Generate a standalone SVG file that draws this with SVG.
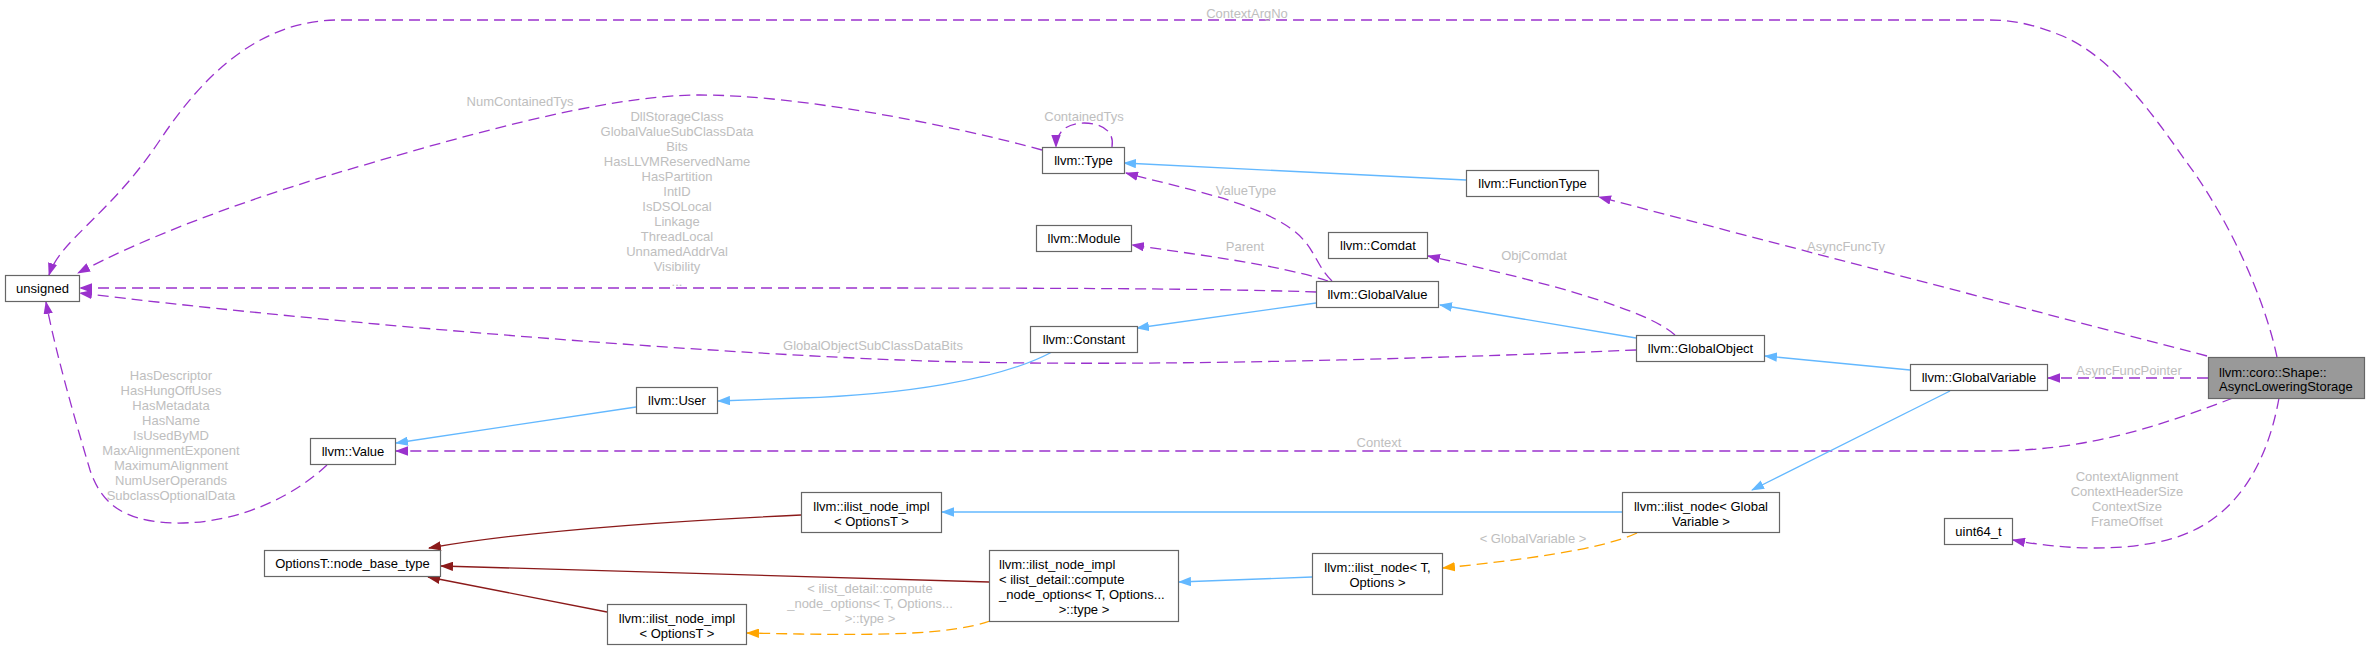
<svg xmlns="http://www.w3.org/2000/svg" width="2369" height="650" viewBox="0 0 2369 650">
<style>
text{font-family:"Liberation Sans",Arial,Helvetica,sans-serif;font-size:13px;fill:#000}
.lbl{fill:#bebebe;text-anchor:middle}
.c{text-anchor:middle}
.box rect{fill:#fff;stroke:#666;stroke-width:1.2}
.root rect{fill:#999;stroke:#666;stroke-width:1.2}
.e{fill:none;stroke-width:1.3}
.p{stroke:#9a32cd;stroke-dasharray:11,6;marker-end:url(#mp)}
.b{stroke:#63b8ff;marker-end:url(#mb)}
.r{stroke:#8b1a1a;marker-end:url(#mr)}
.o{stroke:#ffa500;stroke-dasharray:11,6;marker-end:url(#mo)}
</style>
<defs>
<marker id="mp" viewBox="0 0 13 9.4" refX="12" refY="4.7" markerWidth="13" markerHeight="9.4" markerUnits="userSpaceOnUse" orient="auto"><path d="M0,0L13,4.7L0,9.4z" fill="#9a32cd"/></marker>
<marker id="mb" viewBox="0 0 13 9.4" refX="12" refY="4.7" markerWidth="13" markerHeight="9.4" markerUnits="userSpaceOnUse" orient="auto"><path d="M0,0L13,4.7L0,9.4z" fill="#63b8ff"/></marker>
<marker id="mr" viewBox="0 0 13 9.4" refX="12" refY="4.7" markerWidth="13" markerHeight="9.4" markerUnits="userSpaceOnUse" orient="auto"><path d="M0,0L13,4.7L0,9.4z" fill="#8b1a1a"/></marker>
<marker id="mo" viewBox="0 0 13 9.4" refX="12" refY="4.7" markerWidth="13" markerHeight="9.4" markerUnits="userSpaceOnUse" orient="auto"><path d="M0,0L13,4.7L0,9.4z" fill="#ffa500"/></marker>
</defs>
<rect width="2369" height="650" fill="#fff"/>
<g id="edges">
<path class="e p" d="M2277,357 C2265,300 2230,220 2185,160 C2150,110 2110,55 2060,35 C2030,23 2010,20 1990,20 L335,20 C255,22 200,80 160,140 C110,215 60,240 49,275"/>
<text class="lbl" x="1247" y="18">ContextArgNo</text>
<path class="e p" d="M1042,150 C950,125 800,95 700,95 C600,95 450,140 330,175 C230,205 140,240 78,273"/>
<text class="lbl" x="520" y="106">NumContainedTys</text>
<path class="e p" d="M1112,147 C1115,130 1100,123 1084,123 C1066,123 1056,133 1056,147"/>
<text class="lbl" x="1084" y="121">ContainedTys</text>
<path class="e b" d="M1466,180 L1124,163"/>
<path class="e p" d="M2207,356 L1599,197"/>
<text class="lbl" x="1846" y="251">AsyncFuncTy</text>
<path class="e p" d="M1332,281 C1315,265 1315,245 1290,228 C1250,200 1180,188 1126,173"/>
<text class="lbl" x="1246" y="195">ValueType</text>
<path class="e p" d="M1328,281 C1280,265 1200,255 1132,245"/>
<text class="lbl" x="1245" y="251">Parent</text>
<path class="e p" d="M1675,335 C1650,312 1560,285 1428,256"/>
<text class="lbl" x="1534" y="260">ObjComdat</text>
<path class="e p" d="M1316,292 C1200,288 1000,288 800,288 L80,288"/>
<g class="lbl">
<text class="lbl" x="677" y="121">DllStorageClass</text>
<text class="lbl" x="677" y="136">GlobalValueSubClassData</text>
<text class="lbl" x="677" y="151">Bits</text>
<text class="lbl" x="677" y="166">HasLLVMReservedName</text>
<text class="lbl" x="677" y="181">HasPartition</text>
<text class="lbl" x="677" y="196">IntID</text>
<text class="lbl" x="677" y="211">IsDSOLocal</text>
<text class="lbl" x="677" y="226">Linkage</text>
<text class="lbl" x="677" y="241">ThreadLocal</text>
<text class="lbl" x="677" y="256">UnnamedAddrVal</text>
<text class="lbl" x="677" y="271">Visibility</text>
<text class="lbl" x="677" y="286">...</text>
</g>
<path class="e p" d="M1636,350 C1400,360 1100,368 900,360 C650,350 300,320 80,293"/>
<text class="lbl" x="873" y="350">GlobalObjectSubClassDataBits</text>
<path class="e b" d="M1316,303 L1137,328"/>
<path class="e b" d="M1636,338 L1440,305"/>
<path class="e b" d="M1052,352 C1000,380 900,395 800,398 L718,401"/>
<path class="e b" d="M636,407 L396,443"/>
<path class="e p" d="M2233,398 C2150,430 2080,451 1990,451 L396,451"/>
<text class="lbl" x="1379" y="447">Context</text>
<path class="e p" d="M327,465 C295,495 240,524 175,523 C120,522 100,500 90,470 C75,420 55,350 46,302"/>
<text class="lbl" x="171" y="380">HasDescriptor</text>
<text class="lbl" x="171" y="395">HasHungOffUses</text>
<text class="lbl" x="171" y="410">HasMetadata</text>
<text class="lbl" x="171" y="425">HasName</text>
<text class="lbl" x="171" y="440">IsUsedByMD</text>
<text class="lbl" x="171" y="455">MaxAlignmentExponent</text>
<text class="lbl" x="171" y="470">MaximumAlignment</text>
<text class="lbl" x="171" y="485">NumUserOperands</text>
<text class="lbl" x="171" y="500">SubclassOptionalData</text>
<path class="e r" d="M801,515 C650,522 520,532 429,548"/>
<path class="e r" d="M989,582 L441,566"/>
<path class="e r" d="M607,612 L428,577"/>
<path class="e b" d="M1312,577 L1179,582"/>
<path class="e b" d="M1622,512 L942,512"/>
<path class="e b" d="M1950,391 L1752,490"/>
<path class="e b" d="M1910,370 L1765,356"/>
<path class="e p" d="M2208,378 L2048,378"/>
<text class="lbl" x="2129" y="375">AsyncFuncPointer</text>
<path class="e p" d="M2279,398 C2268,460 2240,510 2190,532 C2150,550 2080,553 2013,540"/>
<text class="lbl" x="2127" y="481">ContextAlignment</text>
<text class="lbl" x="2127" y="496">ContextHeaderSize</text>
<text class="lbl" x="2127" y="511">ContextSize</text>
<text class="lbl" x="2127" y="526">FrameOffset</text>
<path class="e o" d="M1637,533 C1600,550 1520,560 1443,568"/>
<text class="lbl" x="1533" y="543">&lt; GlobalVariable &gt;</text>
<path class="e o" d="M990,621 C950,635 880,635 800,634 L747,633"/>
<text class="lbl" x="870" y="593">&lt; ilist_detail::compute</text>
<text class="lbl" x="870" y="608">_node_options&lt; T, Options...</text>
<text class="lbl" x="870" y="623">&gt;::type &gt;</text>
</g>
<g id="n_unsigned" class="box"><rect x="5.5" y="275.5" width="74" height="26"/><text class="c" x="42.5" y="293">unsigned</text></g>
<g id="n_type" class="box"><rect x="1042.5" y="147.5" width="82" height="26"/><text class="c" x="1083.5" y="165">llvm::Type</text></g>
<g id="n_functiontype" class="box"><rect x="1466.5" y="170.5" width="132" height="26"/><text class="c" x="1532.5" y="188">llvm::FunctionType</text></g>
<g id="n_module" class="box"><rect x="1036.5" y="225.5" width="95" height="26"/><text class="c" x="1084" y="243">llvm::Module</text></g>
<g id="n_comdat" class="box"><rect x="1328.5" y="232.5" width="99" height="26"/><text class="c" x="1378" y="250">llvm::Comdat</text></g>
<g id="n_globalvalue" class="box"><rect x="1316.5" y="281.5" width="122" height="26"/><text class="c" x="1377.5" y="299">llvm::GlobalValue</text></g>
<g id="n_constant" class="box"><rect x="1030.5" y="326.5" width="107" height="26"/><text class="c" x="1084" y="344">llvm::Constant</text></g>
<g id="n_globalobject" class="box"><rect x="1636.5" y="335.5" width="128" height="26"/><text class="c" x="1700.5" y="353">llvm::GlobalObject</text></g>
<g id="n_globalvariable" class="box"><rect x="1910.5" y="364.5" width="137" height="26"/><text class="c" x="1979" y="382">llvm::GlobalVariable</text></g>
<g id="n_shape" class="root"><rect x="2208.5" y="357.5" width="156" height="41"/><text x="2219" y="376.5">llvm::coro::Shape::</text><text x="2219" y="391">AsyncLoweringStorage</text></g>
<g id="n_user" class="box"><rect x="636.5" y="387.5" width="81" height="26"/><text class="c" x="677" y="405">llvm::User</text></g>
<g id="n_value" class="box"><rect x="310.5" y="438.5" width="85" height="26"/><text class="c" x="353" y="456">llvm::Value</text></g>
<g id="n_ilistnode_gv" class="box"><rect x="1622.5" y="492.5" width="157" height="40"/><text class="c" x="1701" y="510.5">llvm::ilist_node&lt; Global</text><text class="c" x="1701" y="525.5">Variable &gt;</text></g>
<g id="n_ilistimpl_upper" class="box"><rect x="801.5" y="492.5" width="140" height="40"/><text class="c" x="871.5" y="510.5">llvm::ilist_node_impl</text><text class="c" x="871.5" y="525.5">&lt; OptionsT &gt;</text></g>
<g id="n_uint64" class="box"><rect x="1944.5" y="518.5" width="68" height="26"/><text class="c" x="1978.5" y="536">uint64_t</text></g>
<g id="n_nodebase" class="box"><rect x="264.5" y="550.5" width="176" height="26"/><text class="c" x="352.5" y="568">OptionsT::node_base_type</text></g>
<g id="n_compute" class="box"><rect x="989.5" y="550.5" width="189" height="71"/><text x="999" y="568.5">llvm::ilist_node_impl</text><text x="999" y="583.5">&lt; ilist_detail::compute</text><text x="999" y="598.5">_node_options&lt; T, Options...</text><text class="c" x="1084" y="613.5">&gt;::type &gt;</text></g>
<g id="n_ilistnode_t" class="box"><rect x="1312.5" y="553.5" width="130" height="41"/><text class="c" x="1377.5" y="571.5">llvm::ilist_node&lt; T,</text><text class="c" x="1377.5" y="586.5">Options &gt;</text></g>
<g id="n_ilistimpl_lower" class="box"><rect x="607.5" y="604.5" width="139" height="40"/><text class="c" x="677" y="622.5">llvm::ilist_node_impl</text><text class="c" x="677" y="637.5">&lt; OptionsT &gt;</text></g>
</svg>
